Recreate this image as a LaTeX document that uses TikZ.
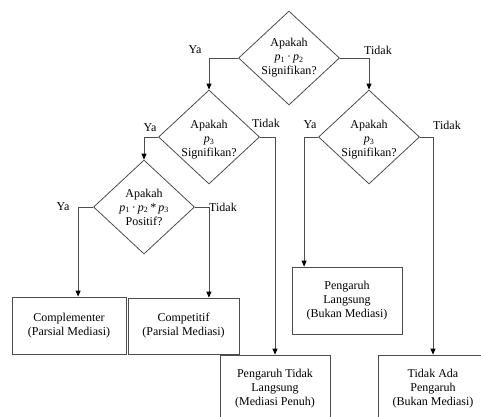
\documentclass[tikz,border=0pt]{standalone}
\usepackage{fontspec}
\setmainfont{Liberation Serif}
\usetikzlibrary{shapes.geometric,arrows.meta}

\begin{document}
\begin{tikzpicture}[x=1pt,y=-1pt,
    decision/.style={diamond,draw=black!70,line width=0.8pt,minimum width=101pt,minimum height=94pt,inner sep=0pt},
    dtext/.style={align=center,font=\fontsize{12}{14}\selectfont},
    result/.style={rectangle,draw=black!70,line width=0.8pt,minimum width=110pt,minimum height=67pt,align=center,font=\fontsize{12}{14}\selectfont},
    arr/.style={draw=black!70,line width=0.8pt,-{Triangle[width=5pt,length=6pt,color=black]}},
    lbl/.style={font=\fontsize{12}{14}\selectfont,inner sep=1pt}]
                \useasboundingbox (0,0) rectangle (481,416);
                \clip (0,0) rectangle (481,416);
                % decisions
                \node[decision] (d1) at (289,58) {};
                \node[dtext] (t1) at (d1) {Apakah\\\textit{p}\textsubscript{1}\,·\,\textit{p}\textsubscript{2}\\Signifikan?};
                \node[decision] (d2) at (209,137) {};
                \node[dtext] (t2) at ([yshift=-3pt]d2.center) {Apakah\\\textit{p}\textsubscript{3}\\Signifikan?};
                \node[decision] (d3) at (369,137) {};
                \node[dtext] (t3) at ([yshift=-3pt]d3.center) {Apakah\\\textit{p}\textsubscript{3}\\Signifikan?};
                \node[decision] (d4) at (144,207) {};
                \node[dtext] (t4) at (d4) {Apakah\\\textit{p}\textsubscript{1}\,·\,\textit{p}\textsubscript{2}\,*\,\textit{p}\textsubscript{3}\\Positif?};
                % results
                \node[result,minimum width=114pt,minimum height=57pt] (r1) at (69,325.5) {Complementer\\(Parsial Mediasi)};
                \node[result,minimum width=111pt,minimum height=56pt] (r2) at (183.5,326) {Competitif\\(Parsial Mediasi)};
                \node[result] (r3) at (347,300.5) {Pengaruh\\Langsung\\(Bukan Mediasi)};
                \node[result] (r4) at (275,388.5) {Pengaruh Tidak\\Langsung\\(Mediasi Penuh)};
                \node[result] (r5) at (433,388.5) {Tidak Ada\\Pengaruh\\(Bukan Mediasi)};
                % connectors
                \draw[arr] (d1.west) -| (d2.north);
                \draw[arr] (d1.east) -| (d3.north);
                \draw[arr] (d2.west) -| (d4.north);
                \draw[arr] (d2.east) -| (r4.north);
                \draw[arr] (d3.west) -- ++(-14,0) coordinate (c3) -- (c3 |- r3.north);
                \draw[arr] (d3.east) -| (r5.north);
                \draw[arr] (d4.west) -- ++(-15,0) coordinate (c4) -- (c4 |- r1.north);
                \draw[arr] (d4.east) -- ++(14,0) coordinate (c5) -- (c5 |- r2.north);
                % labels
                \node[lbl] (y1) at (195,50) {Ya};
                \node[lbl] (n1) at (378,50) {Tidak};
                \node[lbl] (y2) at (150,128) {Ya};
                \node[lbl] (n2) at (266,123) {Tidak};
                \node[lbl] (y3) at (310,125) {Ya};
                \node[lbl] (n3) at (447,125) {Tidak};
                \node[lbl] (y4) at (63,207) {Ya};
                \node[lbl] (n4) at (223,207) {Tidak};
            \end{tikzpicture}
\end{document}
